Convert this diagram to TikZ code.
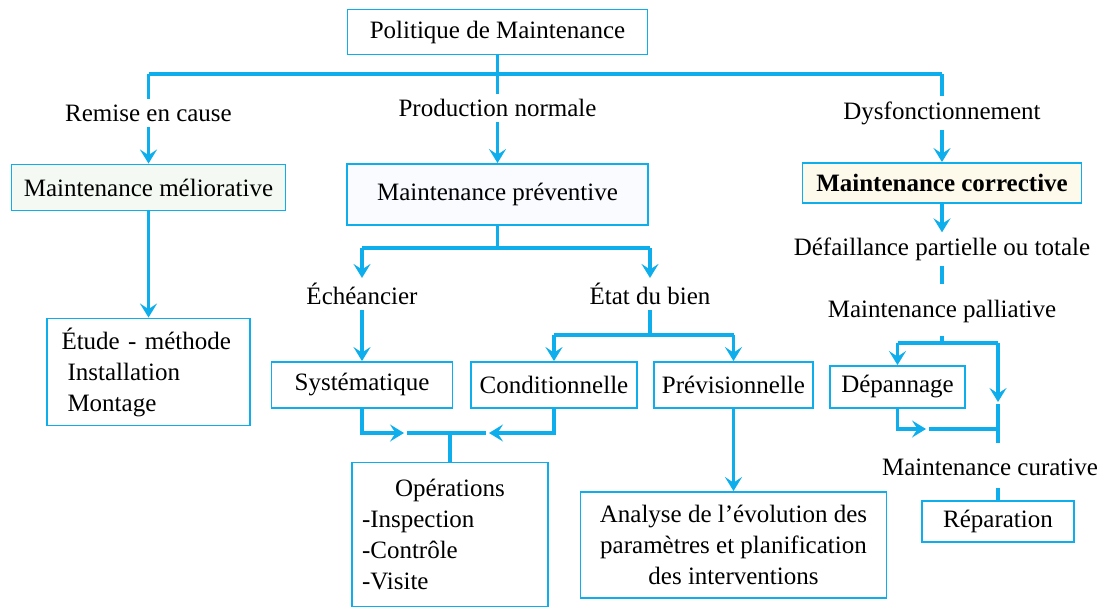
\documentclass[tikz,border=0pt]{standalone}
\usepackage{fontspec}
\setmainfont{Liberation Serif}
\usetikzlibrary{arrows.meta}
\definecolor{cy}{RGB}{14,174,236}
\definecolor{melfill}{RGB}{244,250,243}
\definecolor{prevfill}{RGB}{249,251,255}
\definecolor{corrfill}{RGB}{253,250,236}
\begin{document}
\begin{tikzpicture}[x=1pt,y=-1pt,
  every node/.style={font=\fontsize{25}{31}\selectfont, text=black},
  box/.style={draw=cy, line width=1.9pt, fill=white, inner sep=0pt},
  lbl/.style={inner sep=5pt},
  link/.style={draw=cy, line width=3.1pt},
  arr/.style={link, -{Stealth[length=14pt,width=17pt,inset=5.5pt]}},
]
\useasboundingbox (0,0) rectangle (1108,608);

% --- top level
\node[box, minimum width=300pt, minimum height=45pt] (pol) at (497.5,32) {Politique de Maintenance};
\node[lbl] (rem) at (148.5,113) {Remise en cause};
\node[lbl] (prod) at (497.5,108) {Production normale};
\node[lbl] (dys) at (942,113) {Dysfonctionnement};

\coordinate (bL) at (148.5,74);
\coordinate (bR) at (942,74);
\draw[link] (pol.south) -- (prod.north);
\draw[link] (bL) -- (bR);
\draw[link] (bL) -- (rem.north);
\draw[link] (bR) -- (dys.north);

% --- three families
\node[box, fill=melfill, minimum width=274pt, minimum height=46pt] (mel) at (148.5,187.5) {Maintenance méliorative};
\node[box, fill=prevfill, minimum width=301pt, minimum height=61pt] (prev) at (497.5,194.5) {Maintenance préventive};
\node[box, fill=corrfill, minimum width=279pt, minimum height=40pt, font=\fontsize{25}{31}\selectfont\bfseries] (corr) at (942,183) {Maintenance corrective};

\draw[arr] (rem.south) -- (rem.south |- mel.north);
\draw[arr] (prod.south) -- (prod.south |- prev.north);
\draw[arr] (dys.south) -- (dys.south |- corr.north);

% --- ameliorative branch
\node[box, minimum width=203pt, minimum height=107pt, text width=174pt, align=left] (etude) at (148.5,372) {Étude - méthode\\ \hspace*{6pt}Installation\\ \hspace*{6pt}Montage};
\draw[arr] (mel.south) -- (mel.south |- etude.north);

% --- preventive branch
\node[lbl] (ech) at (362,294) {Échéancier};
\node[lbl] (etat) at (650,294) {État du bien};
\coordinate (pbL) at (362,248);
\coordinate (pbR) at (650,248);
\draw[link] (prev.south) -- (prev.south |- pbL);
\draw[link] (pbL) -- (pbR);
\draw[arr] (pbL) -- (ech.north);
\draw[arr] (pbR) -- (etat.north);

\node[box, minimum width=181pt, minimum height=46pt] (sys) at (362,385) {Systématique};
\node[box, minimum width=166pt, minimum height=46pt] (cond) at (554,385) {Conditionnelle};
\node[box, minimum width=159pt, minimum height=46pt] (previ) at (733.5,385) {Prévisionnelle};

\draw[arr] (ech.south) -- (ech.south |- sys.north);
\coordinate (eb) at (650,335);
\draw[link] (etat.south) -- (eb);
\draw[link] (cond.north |- eb) -- (previ.north |- eb);
\draw[arr] (cond.north |- eb) -- (cond.north);
\draw[arr] (previ.north |- eb) -- (previ.north);

\node[box, minimum width=196pt, minimum height=144pt, text width=176pt, align=left,
      font=\fontsize{25}{30.7}\selectfont] (ops) at (450,534.5)
      {\makebox[176pt]{Opérations}\\-Inspection\\-Contrôle\\-Visite};
\node[box, minimum width=306pt, minimum height=106pt, align=center] (ana) at (733.5,545)
      {Analyse de l’évolution des\\paramètres et planification\\des interventions};

\coordinate (jL) at (404,433);
\coordinate (jR) at (489,433);
\draw[link, shorten <=3pt, shorten >=3pt] (jL) -- (jR);
\draw[arr] (sys.south) |- (jL);
\draw[arr] (cond.south) |- (jR);
\draw[link] (ops.north |- jL) -- (ops.north);
\draw[arr] (previ.south) -- (ana.north);

% --- corrective branch
\node[lbl] (def) at (942,249) {Défaillance partielle ou totale};
\node[lbl] (pal) at (942,311) {Maintenance palliative};
\node[box, minimum width=135pt, minimum height=42pt] (dep) at (897.5,387) {Dépannage};
\node[lbl] (cur) at (990,467) {Maintenance curative};
\node[box, minimum width=152pt, minimum height=41pt] (rep) at (998,521.5) {Réparation};

\draw[arr] (corr.south) -- (def.north);
\draw[link, shorten >=10pt] (def.south) -- (pal.north);
\coordinate (pL) at (897.5,343);
\coordinate (pR) at (998,343);
\draw[link, shorten <=8pt] (pal.south) -- (pal.south |- pL);
\draw[link] (pL) -- (pR);
\draw[arr] (pL) -- (dep.north);
\coordinate (pA) at (998,402);
\coordinate (jc) at (998,429);
\coordinate (dA) at (926,429);
\draw[arr] (pR) -- (pA);
\draw[link, shorten <=2pt, shorten >=10pt] (pA) -- (pA |- cur.north);
\draw[arr] (dep.south) |- (dA);
\draw[link, shorten <=3pt] (dA) -- (jc);
\draw[link, shorten <=7pt] (rep.north |- cur.south) -- (rep.north);
\end{tikzpicture}
\end{document}
